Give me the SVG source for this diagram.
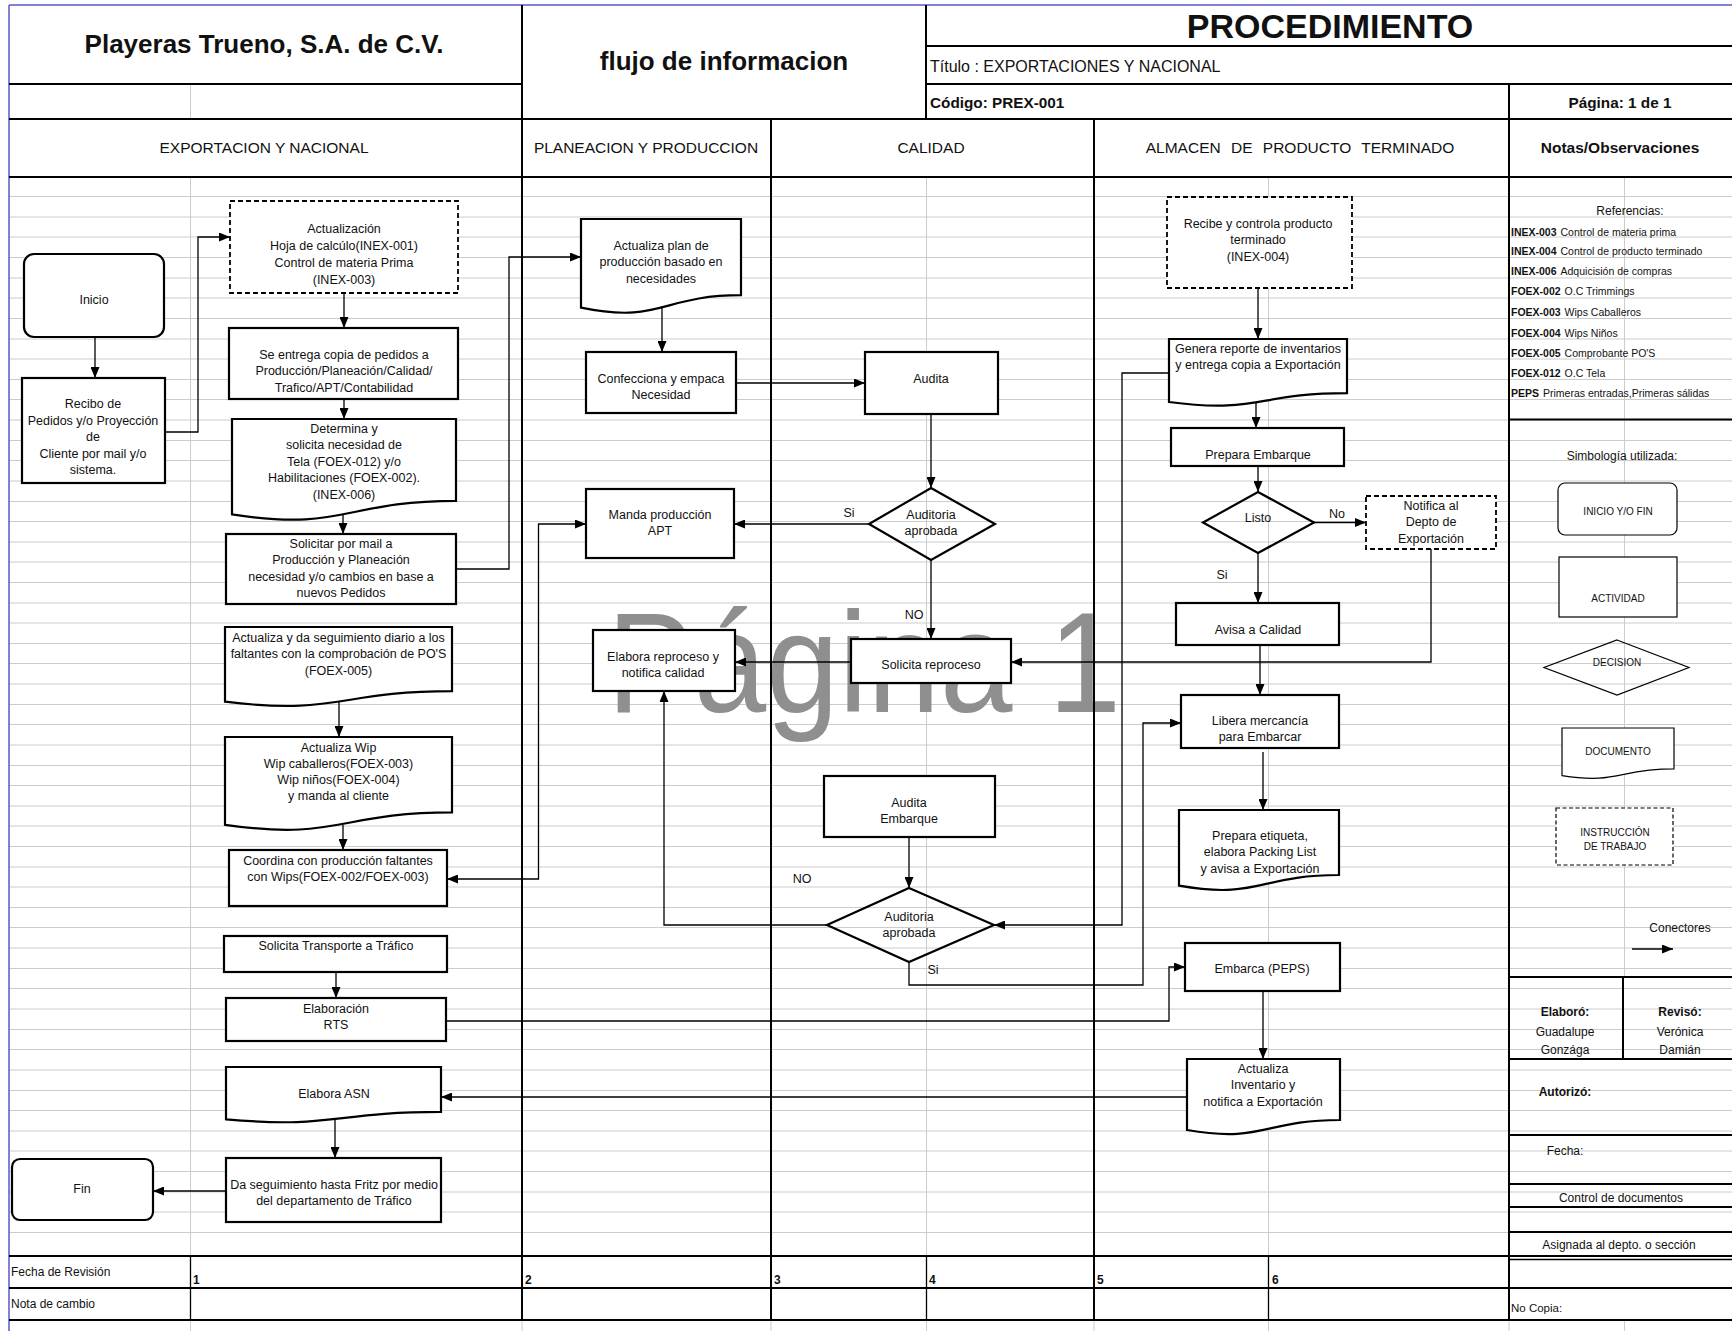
<svg xmlns="http://www.w3.org/2000/svg" width="1732" height="1331" viewBox="0 0 1732 1331">
<style>
  text { font-family: "Liberation Sans", Arial, sans-serif; fill: #111; }
  .t { font-size: 12.5px; text-anchor: middle; }
  .lbl { font-size: 12.5px; text-anchor: middle; }
  .hd { font-size: 15.5px; text-anchor: middle; }
  .big { font-weight: bold; text-anchor: middle; }
  .sm { font-size: 10.5px; }
  .sym { font-size: 10px; text-anchor: middle; }
  .nt { font-size: 12px; text-anchor: middle; }
  .wm { font-size: 142px; fill: #8f8f8f; }
  .box { fill: #fff; stroke: #000; stroke-width: 2.2; }
  .instr { fill: #fff; stroke: #000; stroke-width: 1.8; stroke-dasharray: 5 3; }
  .dia { fill: none; stroke: #000; stroke-width: 2.2; }
  .thin { fill: #fff; stroke: #000; stroke-width: 1.2; }
  .thind { fill: #fff; stroke: #000; stroke-width: 1.2; stroke-dasharray: 4 2.5; }
  .conn { fill: none; stroke: #000; stroke-width: 1.3; marker-end: url(#arr); }
  .grid { fill: none; stroke: #cccccc; stroke-width: 1; }
  .rule { fill: none; stroke: #000; stroke-width: 2; }
  .rule1 { fill: none; stroke: #000; stroke-width: 1.3; }
</style>
<defs>
  <marker id="arr" viewBox="0 0 11 9" refX="11" refY="4.5" markerWidth="11" markerHeight="9" markerUnits="userSpaceOnUse" orient="auto-start-reverse">
    <path d="M0,0 L11,4.5 L0,9 Z" fill="#000"/>
  </marker>
</defs>

<rect x="0" y="0" width="1732" height="1331" fill="#fff"/>

<!-- sheet grid -->
<g id="grid">
  <path class="grid" d="M9 196.5H1732M9 217H1732M9 237H1732M9 257.5H1732M9 278H1732M9 298H1732M9 318.5H1732M9 339H1732M9 359H1732M9 379.5H1732M9 399.5H1732M9 420H1732M9 440.5H1732M9 460.5H1732M9 481H1732M9 501.5H1732M9 521.5H1732M9 542H1732M9 562H1732M9 582.5H1732M9 603H1732M9 623H1732M9 643.5H1732M9 663.5H1732M9 684H1732M9 704.5H1732M9 724.5H1732M9 745H1732M9 765.5H1732M9 785.5H1732M9 806H1732M9 826H1732M9 846.5H1732M9 867H1732M9 887H1732M9 907.5H1732M9 927.5H1732M9 948H1732M9 968.5H1732M9 988.5H1732M9 1009H1732M9 1029.5H1732M9 1049.5H1732M9 1070H1732M9 1090.5H1732M9 1110.5H1732M9 1131H1732M9 1151H1732M9 1171.5H1732M9 1192H1732M9 1212H1732M9 1232.5H1732"/>
  <path class="grid" d="M190.5 84V119M190.5 177V1256M926.5 177V1256M1268.5 177V1256M1624.5 177V977M190.5 1320V1331M522 1320V1331M771 1320V1331M926.5 1320V1331M1094 1320V1331M1268.5 1320V1331M1509 1320V1331M1624.5 1320V1331"/>
</g>

<!-- page watermark -->
<text class="wm" x="607" y="712" textLength="514" lengthAdjust="spacingAndGlyphs">Página 1</text>

<!-- form frame -->
<g id="frame">
  <path d="M9 5H1732M9 5V1331" stroke="#5a5ac8" stroke-width="1.5" fill="none"/>
  <path class="rule" d="M9 84H522M926 46H1732M926 84H1732M9 119H1732M9 177H1732M522 5V1320M926 5V119M1509 84V1320M771 119V1320M1094 119V1320"/>
  <path class="rule" d="M9 1256H1732M9 1288H1732M9 1320H1732"/>
  <path class="rule1" d="M190.5 1256V1320M926.5 1256V1320M1268.5 1256V1320"/>
  <path class="rule" d="M1509 419.5H1732M1509 977H1732M1509 1059H1732M1623 977V1059M1509 1135H1732M1509 1184H1732M1509 1207H1732M1509 1232H1732"/>
  <path class="rule1" d="M1509 1259.5H1732"/>
</g>

<!-- header texts -->
<g id="header">
  <text class="big" x="264" y="53" font-size="26">Playeras Trueno, S.A. de C.V.</text>
  <text class="big" x="724" y="70" font-size="26">flujo de informacion</text>
  <text class="big" x="1330" y="38" font-size="34">PROCEDIMIENTO</text>
  <text x="930" y="72" font-size="16">Título : EXPORTACIONES Y NACIONAL</text>
  <text x="930" y="108" font-size="15.3" font-weight="bold">Código: PREX-001</text>
  <text x="1620" y="108" font-size="15.3" font-weight="bold" text-anchor="middle">Página: 1 de 1</text>
  <text class="hd" x="264" y="153">EXPORTACION Y NACIONAL</text>
  <text class="hd" x="646" y="153">PLANEACION Y PRODUCCION</text>
  <text class="hd" x="931" y="153">CALIDAD</text>
  <text class="hd" x="1300" y="153" word-spacing="6">ALMACEN DE PRODUCTO TERMINADO</text>
  <text class="hd" x="1620" y="153" font-weight="bold">Notas/Observaciones</text>
</g>

<!-- connectors -->
<g id="connectors">
  <path class="conn" d="M95,337 V378"/>
  <path class="conn" d="M165,432 H198 V237 H230"/>
  <path class="conn" d="M344,293 V328"/>
  <path class="conn" d="M344,399 V419"/>
  <path class="conn" d="M343,514 V534"/>
  <path class="conn" d="M456,569 H509 V257 H581"/>
  <path class="conn" d="M339,701.6 V737"/>
  <path class="conn" d="M343,824.7 V850"/>
  <path class="conn" d="M447,879 H538.5 V524 H586" marker-start="url(#arr)"/>
  <path class="conn" d="M336,972 V998"/>
  <path class="conn" d="M446,1021 H1169 V967 H1185"/>
  <path class="conn" d="M1187,1097 H441"/>
  <path class="conn" d="M335,1119 V1158"/>
  <path class="conn" d="M226,1191 H153"/>
  <path class="conn" d="M662,307.6 V352"/>
  <path class="conn" d="M736,383 H865"/>
  <path class="conn" d="M931,414 V488"/>
  <path class="conn" d="M869,524 H734"/>
  <path class="conn" d="M931,560 V639"/>
  <path class="conn" d="M851,662 H735"/>
  <path class="conn" d="M1431,549 V662 H1011"/>
  <path class="conn" d="M909,837 V888"/>
  <path class="conn" d="M827,925 H664 V691"/>
  <path class="conn" d="M909,962 V985 H1143 V723 H1181"/>
  <path class="conn" d="M1169,373 H1122 V925 H994"/>
  <path class="conn" d="M1258,288 V339"/>
  <path class="conn" d="M1256,402 V428"/>
  <path class="conn" d="M1258,466 V492"/>
  <path class="conn" d="M1314,522.5 H1366"/>
  <path class="conn" d="M1258,553 V603"/>
  <path class="conn" d="M1260,645 V695"/>
  <path class="conn" d="M1263,752 V810"/>
  <path class="conn" d="M1263,991 V1059"/>
  <text class="lbl" x="849" y="517">Si</text>
  <text class="lbl" x="914" y="618.5">NO</text>
  <text class="lbl" x="802" y="882.5">NO</text>
  <text class="lbl" x="933" y="973.5">Si</text>
  <text class="lbl" x="1337" y="517.5">No</text>
  <text class="lbl" x="1222" y="578.5">Si</text>
</g>

<!-- EXPORTACION Y NACIONAL -->
<g id="n-inicio">
  <rect class="box" x="24" y="254" width="140" height="83" rx="10"/>
  <text class="t" x="94" y="303.5">Inicio</text>
</g>
<g id="n-recibo">
  <rect class="box" x="22" y="378" width="143" height="105"/>
  <text class="t" x="93" y="408"><tspan x="93">Recibo de</tspan><tspan x="93" dy="16.5">Pedidos y/o Proyección</tspan><tspan x="93" dy="16.5">de</tspan><tspan x="93" dy="16.5">Cliente por mail y/o</tspan><tspan x="93" dy="16.5">sistema.</tspan></text>
</g>
<g id="n-actualizacion">
  <rect class="instr" x="230" y="201" width="228" height="92"/>
  <text class="t" x="344" y="232.5"><tspan x="344">Actualización</tspan><tspan x="344" dy="17">Hoja de calcúlo(INEX-001)</tspan><tspan x="344" dy="17">Control de materia Prima</tspan><tspan x="344" dy="17">(INEX-003)</tspan></text>
</g>
<g id="n-entrega">
  <rect class="box" x="229" y="328" width="229" height="71"/>
  <text class="t" x="344" y="358.5"><tspan x="344">Se entrega copia de pedidos a</tspan><tspan x="344" dy="16.5">Producción/Planeación/Calidad/</tspan><tspan x="344" dy="16.5">Trafico/APT/Contabilidad</tspan></text>
</g>
<g id="n-determina">
  <path class="box" d="M232,419 H456 V500.8 C344,500.8 344,532 232,514.3 Z"/>
  <text class="t" x="344" y="432.5"><tspan x="344">Determina y</tspan><tspan x="344" dy="16.5">solicita necesidad de</tspan><tspan x="344" dy="16.5">Tela (FOEX-012) y/o</tspan><tspan x="344" dy="16.5">Habilitaciones (FOEX-002).</tspan><tspan x="344" dy="16.5">(INEX-006)</tspan></text>
</g>
<g id="n-solicitar">
  <rect class="box" x="226" y="534" width="230" height="70"/>
  <text class="t" x="341" y="547.5"><tspan x="341">Solicitar por mail a</tspan><tspan x="341" dy="16.5">Producción y Planeación</tspan><tspan x="341" dy="16.5">necesidad y/o cambios en base a</tspan><tspan x="341" dy="16.5">nuevos Pedidos</tspan></text>
</g>
<g id="n-seguimiento">
  <path class="box" d="M225,627 H452 V691.2 C338.5,691.2 338.5,715.6 225,701.7 Z"/>
  <text class="t" x="338.5" y="641.5"><tspan x="338.5">Actualiza y da seguimiento diario a los</tspan><tspan x="338.5" dy="16.5">faltantes con la comprobación de PO'S</tspan><tspan x="338.5" dy="16.5">(FOEX-005)</tspan></text>
</g>
<g id="n-wip">
  <path class="box" d="M225,737 H452 V812.4 C338.5,812.4 338.5,841.1 225,824.8 Z"/>
  <text class="t" x="338.5" y="751.5"><tspan x="338.5">Actualiza Wip</tspan><tspan x="338.5" dy="16.3">Wip caballeros(FOEX-003)</tspan><tspan x="338.5" dy="16.3">Wip niños(FOEX-004)</tspan><tspan x="338.5" dy="16.3">y manda al cliente</tspan></text>
</g>
<g id="n-coordina">
  <rect class="box" x="229" y="850" width="218" height="56"/>
  <text class="t" x="338" y="864.5"><tspan x="338">Coordina con producción faltantes</tspan><tspan x="338" dy="16.5">con Wips(FOEX-002/FOEX-003)</tspan></text>
</g>
<g id="n-transporte">
  <rect class="box" x="224" y="936" width="223" height="36"/>
  <text class="t" x="336" y="949.5">Solicita Transporte a Tráfico</text>
</g>
<g id="n-rts">
  <rect class="box" x="226" y="998" width="220" height="43"/>
  <text class="t" x="336" y="1012.5"><tspan x="336">Elaboración</tspan><tspan x="336" dy="16.5">RTS</tspan></text>
</g>
<g id="n-asn">
  <path class="box" d="M226,1067 H441 V1111.9 C333.5,1111.9 333.5,1129 226,1119.3 Z"/>
  <text class="t" x="334" y="1097.5">Elabora ASN</text>
</g>
<g id="n-fritz">
  <rect class="box" x="226" y="1158" width="215" height="64"/>
  <text class="t" x="334" y="1188.5"><tspan x="334">Da seguimiento hasta Fritz por medio</tspan><tspan x="334" dy="16.5">del departamento de Tráfico</tspan></text>
</g>
<g id="n-fin">
  <rect class="box" x="12" y="1159" width="141" height="61" rx="8"/>
  <text class="t" x="82" y="1192.5">Fin</text>
</g>

<!-- PLANEACION Y PRODUCCION -->
<g id="n-plan">
  <path class="box" d="M581,219 H741 V295.2 C661,295.2 661,324.2 581,307.7 Z"/>
  <text class="t" x="661" y="249.5"><tspan x="661">Actualiza plan de</tspan><tspan x="661" dy="16.5">producción basado en</tspan><tspan x="661" dy="16.5">necesidades</tspan></text>
</g>
<g id="n-confecciona">
  <rect class="box" x="586" y="352" width="150" height="61"/>
  <text class="t" x="661" y="382.5"><tspan x="661">Confecciona y empaca</tspan><tspan x="661" dy="16">Necesidad</tspan></text>
</g>
<g id="n-manda">
  <rect class="box" x="586" y="489" width="148" height="69"/>
  <text class="t" x="660" y="518.5"><tspan x="660">Manda producción</tspan><tspan x="660" dy="16.5">APT</tspan></text>
</g>
<g id="n-reproceso">
  <rect class="box" x="593" y="630" width="142" height="61"/>
  <text class="t" x="663" y="660.5"><tspan x="663">Elabora reproceso y</tspan><tspan x="663" dy="16.5">notifica calidad</tspan></text>
</g>

<!-- CALIDAD -->
<g id="n-audita">
  <rect class="box" x="865" y="352" width="133" height="62"/>
  <text class="t" x="931" y="382.5">Audita</text>
</g>
<g id="n-auditoria1">
  <polygon class="dia" points="931,488 995,524 931,560 869,524"/>
  <text class="t" x="931" y="518.5"><tspan x="931">Auditoria</tspan><tspan x="931" dy="16.5">aprobada</tspan></text>
</g>
<g id="n-solicita-reproceso">
  <rect class="box" x="851" y="639" width="160" height="44"/>
  <text class="t" x="931" y="668.5">Solicita reproceso</text>
</g>
<g id="n-audita-embarque">
  <rect class="box" x="824" y="776" width="171" height="61"/>
  <text class="t" x="909" y="806.5"><tspan x="909">Audita</tspan><tspan x="909" dy="16.5">Embarque</tspan></text>
</g>
<g id="n-auditoria2">
  <polygon class="dia" points="909,888 994,925 909,962 827,925"/>
  <text class="t" x="909" y="920.5"><tspan x="909">Auditoria</tspan><tspan x="909" dy="16.5">aprobada</tspan></text>
</g>

<!-- ALMACEN DE PRODUCTO TERMINADO -->
<g id="n-recibe">
  <rect class="instr" x="1167" y="197" width="185" height="91"/>
  <text class="t" x="1258" y="227.5"><tspan x="1258">Recibe y controla producto</tspan><tspan x="1258" dy="16.5">terminado</tspan><tspan x="1258" dy="16.5">(INEX-004)</tspan></text>
</g>
<g id="n-genera">
  <path class="box" d="M1169,339 H1347 V393.1 C1258,393.1 1258,413.8 1169,402 Z"/>
  <text class="t" x="1258" y="352.5"><tspan x="1258">Genera reporte de inventarios</tspan><tspan x="1258" dy="16.5">y entrega copia a Exportación</tspan></text>
</g>
<g id="n-prepara">
  <rect class="box" x="1171" y="428" width="173" height="38"/>
  <text class="t" x="1258" y="458.5">Prepara Embarque</text>
</g>
<g id="n-listo">
  <polygon class="dia" points="1258,492 1314,522.5 1258,553 1203,522.5"/>
  <text class="t" x="1258" y="521.5">Listo</text>
</g>
<g id="n-notifica">
  <rect class="instr" x="1366" y="496" width="130" height="53"/>
  <text class="t" x="1431" y="509.5"><tspan x="1431">Notifica al</tspan><tspan x="1431" dy="16.5">Depto de</tspan><tspan x="1431" dy="16.5">Exportación</tspan></text>
</g>
<g id="n-avisa">
  <rect class="box" x="1176" y="603" width="163" height="42"/>
  <text class="t" x="1258" y="633.5">Avisa a Calidad</text>
</g>
<g id="n-libera">
  <rect class="box" x="1181" y="695" width="158" height="53"/>
  <text class="t" x="1260" y="724.5"><tspan x="1260">Libera mercancía</tspan><tspan x="1260" dy="16.5">para Embarcar</tspan></text>
</g>
<g id="n-etiqueta">
  <path class="box" d="M1179,810 H1339 V875 C1259,875 1259,899.7 1179,885.7 Z"/>
  <text class="t" x="1260" y="839.5"><tspan x="1260">Prepara etiqueta,</tspan><tspan x="1260" dy="16.5">elabora Packing List</tspan><tspan x="1260" dy="16.5">y avisa a Exportación</tspan></text>
</g>
<g id="n-embarca">
  <rect class="box" x="1185" y="943" width="155" height="48"/>
  <text class="t" x="1262" y="972.5">Embarca (PEPS)</text>
</g>
<g id="n-inventario">
  <path class="box" d="M1187,1059 H1340 V1120 C1263.5,1120 1263.5,1143.2 1187,1130 Z"/>
  <text class="t" x="1263" y="1072.5"><tspan x="1263">Actualiza</tspan><tspan x="1263" dy="16.5">Inventario y</tspan><tspan x="1263" dy="16.5">notifica a Exportación</tspan></text>
</g>

<!-- Notas / Observaciones -->
<g id="notes">
  <text class="nt" x="1630" y="215">Referencias:</text>
  <g class="sm">
    <text x="1511" y="236"><tspan font-weight="bold">INEX-003</tspan><tspan dx="4">Control de materia prima</tspan></text>
    <text x="1511" y="255"><tspan font-weight="bold">INEX-004</tspan><tspan dx="4">Control de producto terminado</tspan></text>
    <text x="1511" y="275"><tspan font-weight="bold">INEX-006</tspan><tspan dx="4">Adquicisión de compras</tspan></text>
    <text x="1511" y="295"><tspan font-weight="bold">FOEX-002</tspan><tspan dx="4">O.C Trimmings</tspan></text>
    <text x="1511" y="316"><tspan font-weight="bold">FOEX-003</tspan><tspan dx="4">Wips Caballeros</tspan></text>
    <text x="1511" y="337"><tspan font-weight="bold">FOEX-004</tspan><tspan dx="4">Wips Niños</tspan></text>
    <text x="1511" y="357"><tspan font-weight="bold">FOEX-005</tspan><tspan dx="4">Comprobante  PO'S</tspan></text>
    <text x="1511" y="377"><tspan font-weight="bold">FOEX-012</tspan><tspan dx="4">O.C Tela</tspan></text>
    <text x="1511" y="397"><tspan font-weight="bold">PEPS</tspan><tspan dx="4">Primeras entradas,Primeras sálidas</tspan></text>
  </g>
  <text class="nt" x="1622" y="460" font-size="12.5">Simbología utilizada:</text>
  <rect class="thin" x="1558" y="483" width="119" height="52" rx="7"/>
  <text class="sym" x="1618" y="514.5">INICIO Y/O FIN</text>
  <rect class="thin" x="1559" y="557" width="118" height="60"/>
  <text class="sym" x="1618" y="601.5">ACTIVIDAD</text>
  <polygon points="1617,640 1689,667.5 1617,695 1544,667.5" fill="none" stroke="#000" stroke-width="1.2"/>
  <text class="sym" x="1617" y="665.5">DECISION</text>
  <path class="thin" d="M1562,728 H1674 V768.9 C1618,768.9 1618,784.5 1562,775.6 Z"/>
  <text class="sym" x="1618" y="754.5">DOCUMENTO</text>
  <rect class="thind" x="1556" y="808" width="117" height="57"/>
  <text class="sym" x="1615" y="835.5"><tspan x="1615">INSTRUCCIÓN</tspan><tspan x="1615" dy="14">DE TRABAJO</tspan></text>
  <text class="nt" x="1680" y="932" font-size="11.5">Conectores</text>
  <path class="conn" d="M1632,949 H1673"/>
  <text class="nt" x="1565" y="1016" font-weight="bold">Elaboró:</text>
  <text class="nt" x="1680" y="1016" font-weight="bold">Revisó:</text>
  <text class="nt" x="1565" y="1036">Guadalupe</text>
  <text class="nt" x="1680" y="1036">Verónica</text>
  <text class="nt" x="1565" y="1054">Gonzága</text>
  <text class="nt" x="1680" y="1054">Damián</text>
  <text class="nt" x="1565" y="1096" font-weight="bold">Autorizó:</text>
  <text class="nt" x="1565" y="1155">Fecha:</text>
  <text class="nt" x="1621" y="1202">Control de documentos</text>
  <text class="nt" x="1619" y="1249">Asignada al depto. o sección</text>
  <text x="1511" y="1312" font-size="11.5">No Copia:</text>
</g>

<!-- revision rows -->
<g id="revisions">
  <text x="11" y="1276" font-size="12">Fecha de Revisión</text>
  <text x="11" y="1308" font-size="12">Nota de cambio</text>
  <g font-size="12" font-weight="bold">
    <text x="193" y="1284">1</text>
    <text x="525" y="1284">2</text>
    <text x="774" y="1284">3</text>
    <text x="929" y="1284">4</text>
    <text x="1097" y="1284">5</text>
    <text x="1272" y="1284">6</text>
  </g>
</g>
</svg>
